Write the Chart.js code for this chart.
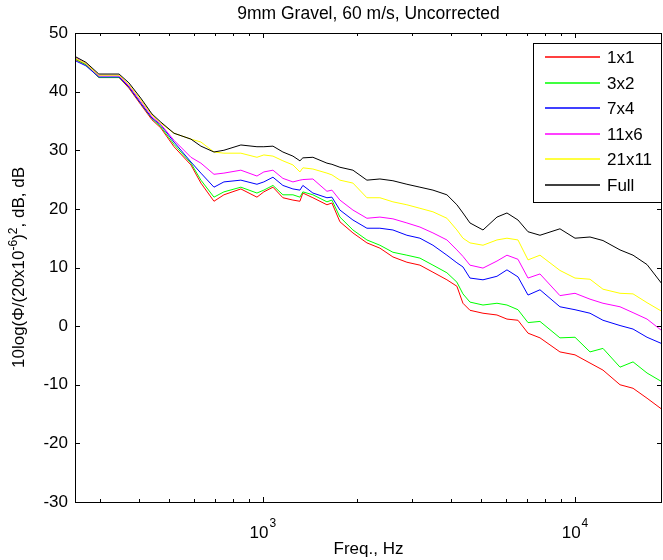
<!DOCTYPE html>
<html>
<head>
<meta charset="utf-8">
<script src="https://cdn.jsdelivr.net/npm/chart.js@4"></script>
<style>
html,body{margin:0;padding:0;background:#fff;}
canvas{display:block;}
</style>
</head>
<body>
<canvas id="c" width="663" height="560"></canvas>
<script>
// ---- data ----
const freqs = [250,271,298,346,372,406,441,471,519,588,633,697,750,850,957,1007,1077,1159,1248,1314,1343,1446,1604,1664,1765,1943,2154,2371,2610,2893,3185,3506,3887,4184,4375,4607,5072,5623,6053,6566,7070,7723,8949,10000,11171,12292,13940,15345,17015,19000];
const seriesNames = ['1x1','3x2','7x4','11x6','21x11','Full'];
const seriesColors = ['#ff0000','#00ff00','#0000ff','#ff00ff','#ffff00','#000000'];
const s1x1 = [45.5,44.6,42.4,42.4,40.6,37.8,35.2,33.8,30.6,27.5,24.4,21.3,22.4,23.4,22.0,22.9,23.7,21.9,21.5,21.3,22.7,21.9,20.7,21.0,17.8,15.9,14.2,13.3,11.8,10.9,10.4,9.2,7.9,6.8,3.9,2.7,2.2,1.9,1.2,1.0,-1.2,-2.0,-4.4,-4.9,-6.3,-7.5,-10.0,-10.6,-12.3,-14.2];
const s3x2 = [45.6,44.6,42.4,42.4,40.8,38.0,35.4,34.0,31.0,27.8,24.9,22.0,22.9,23.7,22.7,23.2,24.0,22.4,22.4,22.0,22.9,22.4,21.2,21.5,18.6,16.4,14.7,13.8,12.6,12.1,11.6,10.4,9.1,7.5,5.5,4.1,3.6,3.9,3.6,2.8,0.6,0.8,-2.0,-1.9,-4.4,-3.8,-7.0,-6.1,-8.0,-9.5];
const s7x4 = [45.3,44.4,42.5,42.5,40.8,38.0,35.5,34.3,31.4,28.0,26.1,23.7,24.6,24.9,24.2,24.6,25.4,24.0,23.4,23.2,24.0,22.7,21.9,22.0,19.8,18.1,16.7,16.7,16.4,15.5,15.0,13.8,12.1,10.8,10.1,8.2,7.9,8.5,9.6,8.4,5.3,6.2,3.3,2.8,2.2,1.0,0.1,-0.5,-1.9,-3.0];
const s11x6 = [45.8,44.8,42.7,42.7,41.0,38.3,35.7,34.4,31.7,28.8,27.8,25.9,26.1,26.6,25.6,26.3,26.6,25.2,24.6,24.9,25.0,25.1,23.0,23.2,21.5,19.8,18.4,18.6,18.3,17.6,16.9,15.9,14.7,13.0,11.9,10.4,9.9,11.1,12.1,11.4,8.2,8.9,5.2,5.6,4.6,3.9,3.3,2.3,1.2,-0.8];
const s21x11 = [45.7,44.8,42.8,42.8,41.2,38.6,36.0,34.6,32.9,31.9,31.4,29.7,29.5,29.5,28.8,29.2,29.0,28.2,27.5,26.3,27.0,26.8,26.1,25.8,24.9,24.4,21.9,21.9,21.2,20.7,20.1,19.5,18.4,16.4,15.0,14.2,13.8,14.7,15.0,14.7,11.3,12.1,9.5,8.2,8.0,6.3,5.6,5.5,4.0,2.5];
const sFull = [46.0,45.0,43.0,43.0,41.5,38.9,36.2,34.8,32.9,31.9,30.7,29.7,30.0,30.9,30.6,30.6,30.7,29.7,29.0,28.2,28.7,28.8,27.8,27.6,27.1,26.6,24.9,25.1,24.8,24.2,23.7,23.2,22.4,20.7,19.3,17.6,16.4,18.6,19.3,18.1,16.1,15.5,16.6,15.0,15.2,14.6,13.0,12.1,10.5,7.2];
const seriesValues = [s1x1,s3x2,s7x4,s11x6,s21x11,sFull];
const xMin = 250, xMax = 19000;
const yMin = -30, yMax = 50, yStep = 10;
const xMinorTicks = [300,400,500,600,700,800,900,2000,3000,4000,5000,6000,7000,8000,9000];
const xMajorTicks = [1000,10000];
const xMajorExp = ['3','4'];
const titleText = '9mm Gravel, 60 m/s, Uncorrected';
const xLabel = 'Freq., Hz';

const FONT = '"Liberation Sans", Arial, Helvetica, sans-serif';
const FS = 17;

const datasets = seriesNames.map((n,i)=>({
  label:n,
  data: freqs.map((f,j)=>({x:f,y:seriesValues[i][j]})),
  borderColor: seriesColors[i],
  backgroundColor: seriesColors[i],
  borderWidth:1,
  pointRadius:0,
  tension:0,
  fill:false,
  order: seriesNames.length-1-i
}));

const matlabPlugin = {
  id:'matlab',
  beforeDraw(chart){
    const ctx=chart.ctx;
    ctx.save();ctx.fillStyle='#fff';ctx.fillRect(0,0,chart.width,chart.height);ctx.restore();
  },
  afterDraw(chart){
    const ctx=chart.ctx, a=chart.chartArea, xs=chart.scales.x, ys=chart.scales.y;
    ctx.save();
    ctx.strokeStyle='#000';ctx.lineWidth=1;
    // ticks inward
    ctx.beginPath();
    const yt=[];for(let v=yMin;v<=yMax;v+=yStep)yt.push(v);
    yt.forEach(v=>{const y=Math.round(ys.getPixelForValue(v))+0.5;
      ctx.moveTo(a.left,y);ctx.lineTo(a.left+5,y);
      ctx.moveTo(a.right,y);ctx.lineTo(a.right-5,y);});
    xMinorTicks.forEach(v=>{const x=Math.round(xs.getPixelForValue(v))+0.5;
      ctx.moveTo(x,a.bottom);ctx.lineTo(x,a.bottom-3);
      ctx.moveTo(x,a.top);ctx.lineTo(x,a.top+3);});
    xMajorTicks.forEach(v=>{const x=Math.round(xs.getPixelForValue(v))+0.5;
      ctx.moveTo(x,a.bottom);ctx.lineTo(x,a.bottom-5);
      ctx.moveTo(x,a.top);ctx.lineTo(x,a.top+5);});
    ctx.stroke();
    // box
    ctx.strokeRect(Math.round(a.left)+0.5,Math.round(a.top)+0.5,Math.round(a.right-a.left)-1,Math.round(a.bottom-a.top));
    // x tick labels 10^n
    ctx.fillStyle='#000';
    xMajorTicks.forEach((v,i)=>{
      const x=xs.getPixelForValue(v);
      ctx.font=FS+'px '+FONT;
      const w1=ctx.measureText('10').width;
      ctx.font='12px '+FONT;
      const w2=ctx.measureText(xMajorExp[i]).width;
      const x0=x-(w1+w2+1)/2;
      ctx.textBaseline='alphabetic';ctx.textAlign='left';
      ctx.font=FS+'px '+FONT;ctx.fillText('10',x0,a.bottom+36);
      ctx.font='12px '+FONT;ctx.fillText(xMajorExp[i],x0+w1+1,a.bottom+25);
    });
    // x label
    ctx.font=FS+'px '+FONT;ctx.textAlign='center';ctx.textBaseline='alphabetic';
    ctx.fillText(xLabel,(a.left+a.right)/2,554);
    // title
    ctx.font='17.5px '+FONT;
    ctx.fillText(titleText,(a.left+a.right)/2,19);
    // y label with superscripts
    const parts=[['10log(\u03A6/(20x10',0],['-6',1],[')',0],['2',1],[', dB, dB',0]];
    let tw=0;parts.forEach(p=>{ctx.font=(p[1]?'12px ':FS+'px ')+FONT;p.w=ctx.measureText(p[0]).width;tw+=p.w;});
    ctx.translate(24,(a.top+a.bottom)/2);ctx.rotate(-Math.PI/2);
    let cx=-tw/2;ctx.textAlign='left';
    parts.forEach(p=>{ctx.font=(p[1]?'12px ':FS+'px ')+FONT;ctx.fillText(p[0],cx,p[1]?-7:0);cx+=p.w;});
    ctx.restore();
    // legend
    ctx.save();
    const L={l:533,t:43,r:662,b:202,row0:57,dy:25.5};
    ctx.fillStyle='#fff';ctx.fillRect(L.l,L.t,L.r-L.l,L.b-L.t);
    ctx.strokeStyle='#000';ctx.lineWidth=1;ctx.strokeRect(L.l+0.5,L.t+0.5,L.r-L.l-1,L.b-L.t);
    chart.data.datasets.forEach((d,i)=>{
      const y=Math.round(L.row0+i*L.dy);
      ctx.strokeStyle=d.borderColor;ctx.lineWidth=1.5;ctx.beginPath();ctx.moveTo(545,y);ctx.lineTo(600,y);ctx.stroke();
      ctx.fillStyle='#000';ctx.font=FS+'px '+FONT;ctx.textAlign='left';ctx.textBaseline='middle';
      ctx.fillText(d.label,607,y+1);
    });
    ctx.restore();
  }
};

new Chart(document.getElementById('c'),{
  type:'line',
  data:{datasets},
  options:{
    responsive:false,animation:false,devicePixelRatio:1,
    layout:{padding:{left:0,right:1,top:33,bottom:58}},
    plugins:{legend:{display:false},tooltip:{enabled:false},title:{display:false}},
    elements:{point:{radius:0},line:{borderWidth:1}},
    scales:{
      x:{type:'logarithmic',min:xMin,max:xMax,display:false},
      y:{type:'linear',min:yMin,max:yMax,
        grid:{display:false,drawTicks:false},border:{display:false},
        ticks:{stepSize:yStep,color:'#000',font:{family:FONT,size:FS},padding:7},
        afterFit(s){s.width=75;}
      }
    }
  },
  plugins:[matlabPlugin]
});
</script>
</body>
</html>
